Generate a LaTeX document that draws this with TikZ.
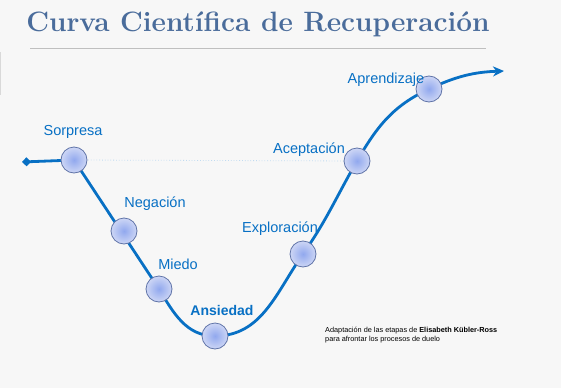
\documentclass[tikz,border=0pt]{standalone}
\usepackage{fontspec}
\setsansfont{Liberation Sans}
\usetikzlibrary{calc,arrows.meta}

\definecolor{fondo}{RGB}{247,247,247}
\definecolor{titulo}{RGB}{74,108,155}
\definecolor{curva}{RGB}{8,112,196}
\definecolor{borde}{RGB}{96,116,168}

\begin{document}
\begin{tikzpicture}[x=1pt,y=-1pt]
  %--------------------------------------------
  % Fondo y marco de la figura
  %--------------------------------------------
  \fill[fondo] (0,0) rectangle (561,388);
  \useasboundingbox (0,0) rectangle (561,388);
  \draw[black!15, line width=1pt] (0.5,52) -- (0.5,95);

  %--------------------------------------------
  % Estilos
  %--------------------------------------------
  \def\rad{13pt}   % radio de cada etapa
  \tikzstyle{etapa} = [
    circle, draw=borde, line width=0.8pt,          % contorno fino
    inner color={rgb,255:red,145;green,168;blue,238},
    outer color={rgb,255:red,205;green,214;blue,245},
    minimum size=2*\rad, inner sep=0pt
  ]
  \tikzstyle{etiqueta} = [
    text=curva, font=\sffamily\fontsize{14.5}{15}\selectfont, inner sep=0pt
  ]

  %--------------------------------------------
  % Título
  %--------------------------------------------
  \node[text=titulo, font=\bfseries\fontsize{28}{28}\selectfont, inner sep=0pt]
    (titulo) at (258,24) {Curva Científica de Recuperación};
  \draw[black!25, line width=1pt] (30,48) -- (486,48);

  %--------------------------------------------
  % Posición de las etapas
  %--------------------------------------------
  \coordinate (inicio) at (22,162);
  \coordinate (fin) at (504,71);
  \foreach \nombre/\px/\py in {sor/74/160, neg/124/231, mie/159/289,
    ans/215/336, exp/303/254, ace/357/161, apr/429/89}
    \coordinate (\nombre) at (\px,\py);

  %--------------------------------------------
  % Curva de recuperación
  %--------------------------------------------
  \draw[curva!25, line width=0.8pt, dotted] (sor) -- (ace);
  \draw[curva, line width=2.8pt, line join=round, {Diamond[length=9pt,width=9pt]}-{Stealth[length=11pt,width=10pt]}]
    (inicio) -- (sor) -- (mie)
    to[out=-59, in=180] (ans)
    to[out=0, in=235] (exp)
    to[out=55, in=240] (ace)
    to[out=60, in=205] (apr)
    to[out=25, in=182] (fin);

  %--------------------------------------------
  % Círculos de cada etapa
  %--------------------------------------------
  \foreach \nombre in {sor,neg,mie,ans,exp,ace,apr}
    \node[etapa] (c\nombre) at (\nombre) {};

  %--------------------------------------------
  % Nombres de las etapas
  %--------------------------------------------
  \node[etiqueta] (lsor) at (73,132)  {Sorpresa};
  \node[etiqueta] (lneg) at (155,204) {Negación};
  \node[etiqueta] (lmie) at (178,264) {Miedo};
  \node[etiqueta, font=\sffamily\bfseries\fontsize{14}{15}\selectfont] (lans) at (222,310) {Ansiedad};
  \node[etiqueta] (lexp) at (280,229) {Exploración};
  \node[etiqueta] (lace) at (309,150) {Aceptación};
  \node[etiqueta] (lapr) at (386,80)  {Aprendizaje};

  %--------------------------------------------
  % Nota al pie
  %--------------------------------------------
  \node[anchor=north west, align=left, inner sep=0pt,
        font=\sffamily\fontsize{7.3}{9}\selectfont] (nota) at (325,327)
    {Adaptación de las etapas de \textbf{Elisabeth Kübler-Ross}\\
     para afrontar los procesos de duelo};
\end{tikzpicture}
\end{document}
